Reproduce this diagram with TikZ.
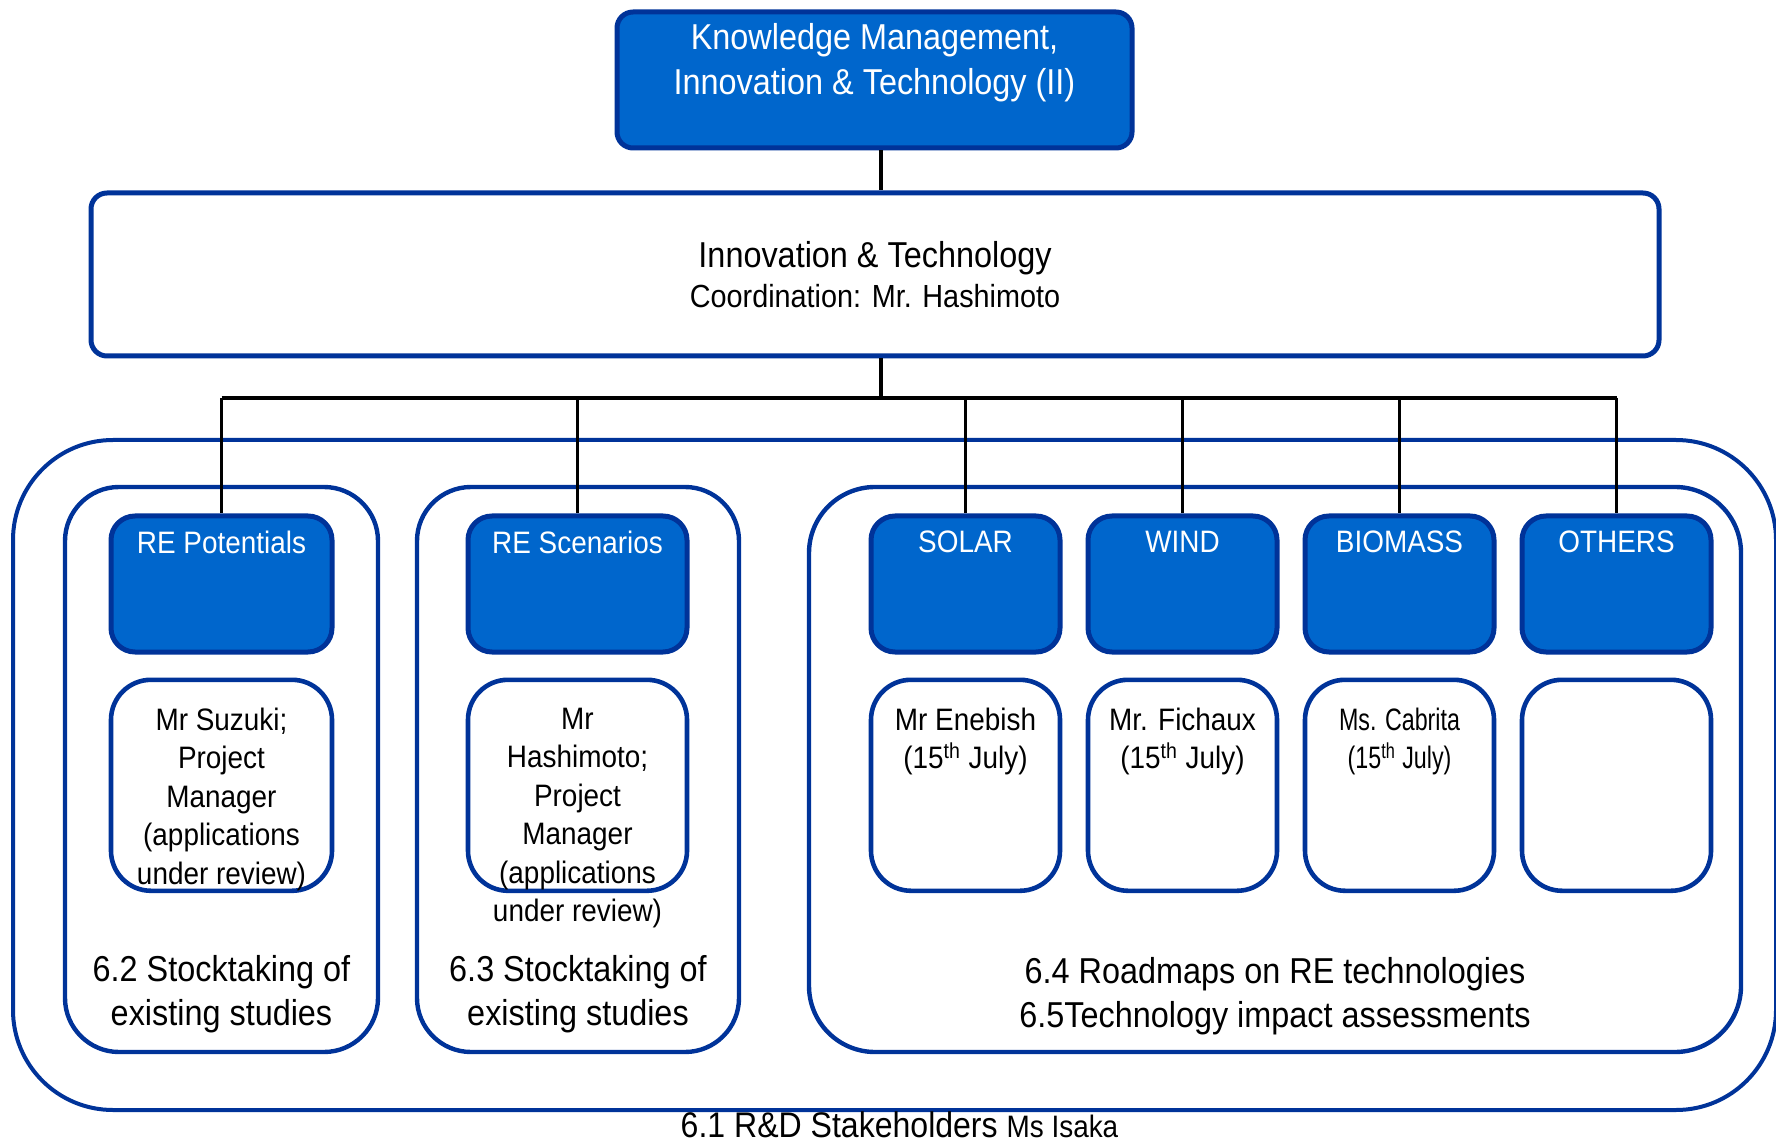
\documentclass[tikz,border=0pt]{standalone}
\usepackage{fontspec}
\setmainfont{Liberation Sans}[FakeStretch=0.9]
\newfontfamily\narrowfont{Liberation Sans}[FakeStretch=0.75]
\usepackage{xcolor}
\usepackage{tikz}
\usetikzlibrary{positioning}
\definecolor{kmblue}{RGB}{0,102,204}
\definecolor{kmedge}{RGB}{0,51,153}
\tikzset{
  topbox/.style={rectangle, draw=kmedge, fill=kmblue, line width=2.5pt, rounded corners=8pt},
  coordbox/.style={rectangle, draw=kmedge, fill=white, line width=2.5pt, rounded corners=8pt, align=center, font=\fontsize{18}{20.25}\selectfont},
  outerbox/.style={rectangle, draw=kmedge, line width=2pt, rounded corners=50pt},
  groupbox/.style={rectangle, draw=kmedge, line width=2.2pt, rounded corners=27pt},
  headbox/.style={rectangle, draw=kmedge, fill=kmblue, line width=2.5pt, rounded corners=12pt, minimum height=68pt},
  namebox/.style={rectangle, draw=kmedge, fill=white, line width=2.3pt, rounded corners=20pt, minimum height=105.5pt},
  toptext/.style={anchor=north, inner sep=0pt, yshift=-6.7pt, align=center, text=white, font=\fontsize{18}{22.5}\selectfont},
  headtext/.style={anchor=north, inner sep=0pt, yshift=-8.5pt, text=white, font=\fontsize{15.5}{18}\selectfont},
  nametext/.style={anchor=north, inner sep=0pt, yshift=-15pt, align=center, font=\fontsize{15.5}{19.25}\selectfont},
  grouptext/.style={anchor=south, inner sep=0pt, yshift=9.5pt, align=center, font=\fontsize{18}{22}\selectfont},
  stakeholdertext/.style={anchor=north, inner sep=0pt, yshift=0.5pt, xshift=2.5pt, font=\fontsize{17.8}{20}\selectfont},
  link/.style={line width=1.7pt},
  buslink/.style={line width=2.4pt}
}

\begin{document}
\begin{tikzpicture}[x=0.5pt, y=-0.5pt, node distance=11.5pt and 11.5pt]
  \useasboundingbox (0,0) rectangle (1776,1143);

  % frames
  \node[outerbox, minimum width=881.5pt, minimum height=335pt,
        label={[stakeholdertext]south:6.1 R\&D Stakeholders {\fontsize{15.5}{18}\selectfont Ms Isaka}}] (rd) at (894.5,775) {};
  \node[groupbox, minimum width=156.5pt, minimum height=282.5pt,
        label={[grouptext, yshift=1pt]south:6.2 Stocktaking of\\existing studies}] (st62) at (221.5,769.5) {};
  \node[groupbox, minimum width=161pt, minimum height=282.5pt,
        label={[grouptext, yshift=1pt]south:6.3 Stocktaking of\\existing studies}] (st63) at (578,769.5) {};
  \node[groupbox, rounded corners=33pt, minimum width=466pt, minimum height=282.5pt,
        label={[grouptext]south:6.4 Roadmaps on RE technologies\\6.5Technology impact assessments}] (rm64) at (1275,769.5) {};

  % top
  \node[topbox, minimum width=257.5pt, minimum height=68pt,
        label={[toptext]north:Knowledge Management,\\Innovation \& Technology (II)}] (km) at (874.5,80) {};
  \node[coordbox, minimum width=784pt, minimum height=81.5pt] (it) at (875,274.5)
    {Innovation \& Technology\\{\fontsize{16}{20.25}\selectfont Coordination: Mr. Hashimoto}};

  % columns
  \node[headbox, minimum width=110.5pt, label={[headtext]north:RE Potentials}] (pot) at (221.5,584) {};
  \node[headbox, minimum width=109.5pt, label={[headtext]north:RE Scenarios}] (scn) at (577.5,584) {};
  \node[headbox, minimum width=94.5pt, label={[headtext]north:SOLAR}] (solar) at (965.5,584) {};
  \node[headbox, minimum width=94.5pt, right=of solar, label={[headtext]north:WIND}] (wind) {};
  \node[headbox, minimum width=94.5pt, right=of wind, label={[headtext]north:BIOMASS}] (biomass) {};
  \node[headbox, minimum width=94.5pt, right=of biomass, label={[headtext]north:OTHERS}] (others) {};

  \node[namebox, minimum width=110.5pt, below=of pot,
        label={[nametext]north:Mr Suzuki;\\Project\\Manager\\(applications\\under review)}] (potname) {};
  \node[namebox, minimum width=109.5pt, below=of scn,
        label={[nametext]north:Mr\\Hashimoto;\\Project\\Manager\\(applications\\under review)}] (scnname) {};
  \node[namebox, minimum width=94.5pt, below=of solar,
        label={[nametext]north:Mr Enebish\\(15\textsuperscript{th} July)}] (solarname) {};
  \node[namebox, minimum width=94.5pt, below=of wind,
        label={[nametext]north:Mr. Fichaux\\(15\textsuperscript{th} July)}] (windname) {};
  \node[namebox, minimum width=94.5pt, below=of biomass,
        label={[nametext, font=\narrowfont\fontsize{15.5}{19.25}\selectfont]north:Ms. Cabrita\\(15\textsuperscript{th} July)}] (biomassname) {};
  \node[namebox, minimum width=94.5pt, below=of others] (othersname) {};

  % connectors
  \coordinate (bus) at (881,398);
  \draw[link] (km.south -| bus) -- (it.north -| bus);
  \draw[link] (it.south -| bus) -- (bus);
  \draw[buslink] (pot.north |- bus) -- (others.north |- bus);
  \foreach \col in {pot,scn,solar,wind,biomass,others}
    \draw[link] (\col.north |- bus) -- (\col.north);
\end{tikzpicture}
\end{document}
